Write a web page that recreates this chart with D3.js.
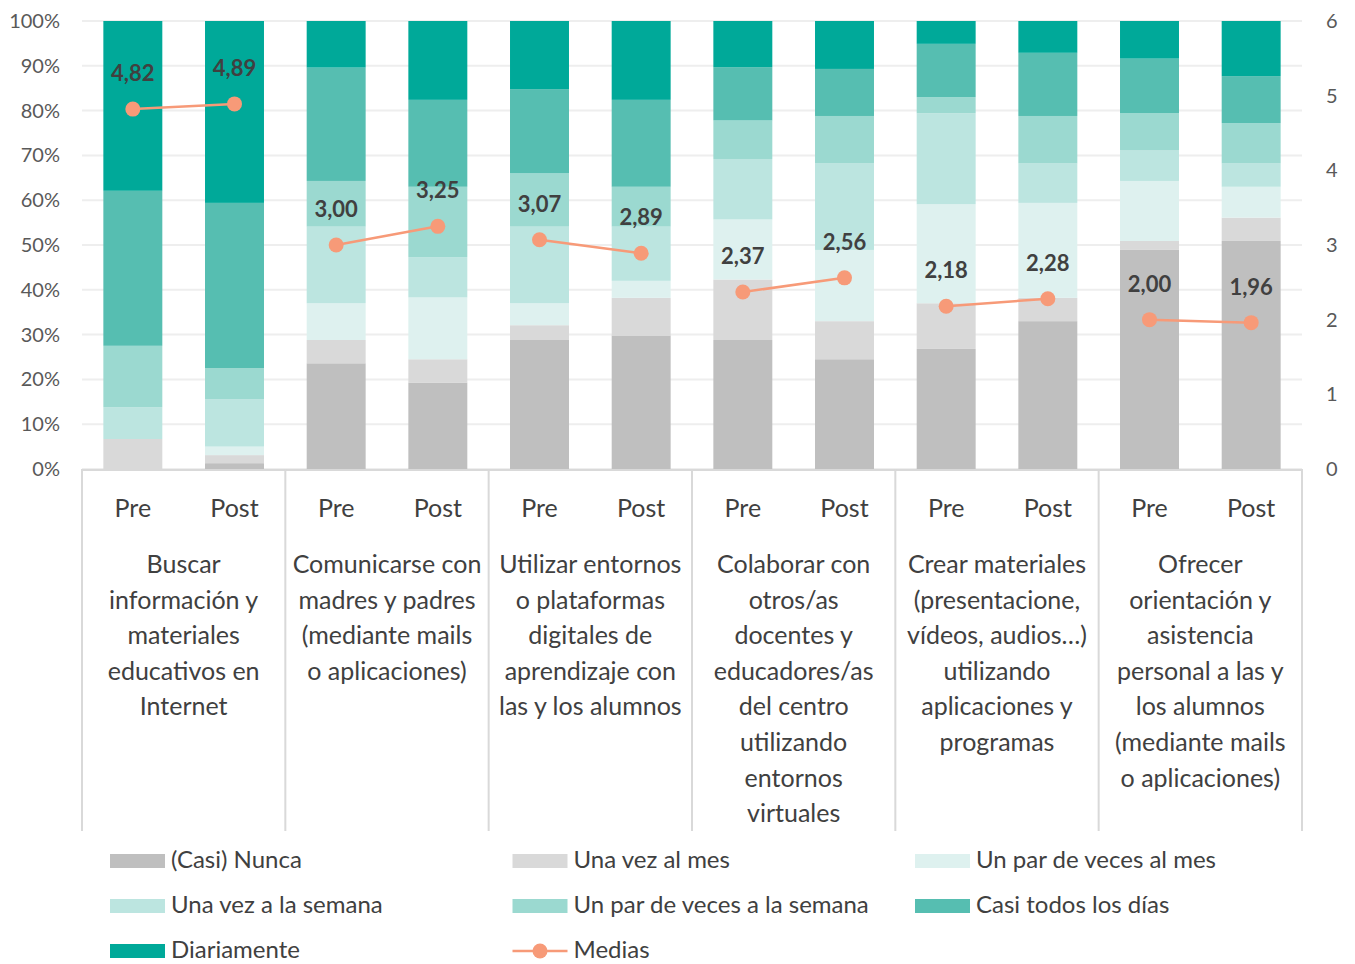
<!DOCTYPE html>
<html>
<head>
<meta charset="utf-8">
<script src="https://cdn.jsdelivr.net/npm/d3@7"></script>
<style>
  body { margin: 0; background: #fff; }
  text { font-family: Lato, "Open Sans", sans-serif; }
</style>
</head>
<body>
<div id="chart"></div>
<script>
var svgWidth = 1355
var svgHeight = 964

// categories
var categories = [
    ["Buscar", "información y", "materiales", "educativos en", "Internet"],
    ["Comunicarse con", "madres y padres", "(mediante mails", "o aplicaciones)"],
    ["Utilizar entornos", "o plataformas", "digitales de", "aprendizaje con", "las y los alumnos"],
    ["Colaborar con", "otros/as", "docentes y", "educadores/as", "del centro", "utilizando", "entornos", "virtuales"],
    ["Crear materiales", "(presentacione,", "vídeos, audios…)", "utilizando", "aplicaciones y", "programas"],
    ["Ofrecer", "orientación y", "asistencia", "personal a las y", "los alumnos", "(mediante mails", "o aplicaciones)"]
]
var periods = ["Pre", "Post"]

// percentages, one value per bar (Pre, Post for each category)
var nunca     = [0.0, 1.3, 23.6, 19.3, 28.8, 29.8, 28.8, 24.5, 26.8, 33.0, 48.9, 50.9]
var unaMes    = [6.7, 1.8, 5.2, 5.2, 3.3, 8.4, 13.5, 8.5, 10.2, 5.2, 2.0, 5.2]
var parMes    = [0.0, 1.9, 8.2, 13.8, 4.9, 3.8, 13.4, 15.9, 22.1, 21.2, 13.4, 6.9]
var unaSemana = [7.1, 10.6, 17.1, 9.0, 17.1, 12.1, 13.5, 19.3, 20.3, 8.8, 6.9, 5.2]
var parSemana = [13.7, 6.9, 10.2, 15.7, 11.9, 8.9, 8.6, 10.6, 3.6, 10.6, 8.2, 9.0]
var casiTodos = [34.6, 36.9, 25.3, 19.4, 18.8, 19.4, 11.9, 10.5, 11.9, 14.1, 12.2, 10.5]
var diario    = [37.9, 40.6, 10.4, 17.6, 15.2, 17.6, 10.3, 10.7, 5.1, 7.1, 8.4, 12.3]
var medias    = [4.82, 4.89, 3.00, 3.25, 3.07, 2.89, 2.37, 2.56, 2.18, 2.28, 2.00, 1.96]

var seriesNames = ["(Casi) Nunca", "Una vez al mes", "Un par de veces al mes",
    "Una vez a la semana", "Un par de veces a la semana", "Casi todos los días", "Diariamente"]
var seriesValues = [nunca, unaMes, parMes, unaSemana, parSemana, casiTodos, diario]
var colors = ["#BFBFBF", "#D9D9D9", "#DEF1EF", "#BCE5E0", "#9BD9D0", "#56BEB1", "#00A999"]
var lineColor = "#F79A78"

var leftTicks = [0, 10, 20, 30, 40, 50, 60, 70, 80, 90, 100]
var rightTicks = [0, 1, 2, 3, 4, 5, 6]

var x0 = 82, x1 = 1302, yTop = 21, yBottom = 469

var svg = d3.select("#chart").append("svg")
    .attr("width", svgWidth)
    .attr("height", svgHeight)

// build rows for each bar
var rows = []
for (var i = 0; i < medias.length; i++) {
    var row = { g: Math.floor(i / 2), period: periods[i % 2], media: medias[i] }
    seriesNames.forEach(function(s, k) { row[s] = seriesValues[k][i] })
    rows.push(row)
}

var groupScale = d3.scaleBand().domain(d3.range(categories.length)).range([x0, x1]).padding(0)
var periodScale = d3.scaleBand().domain(periods).range([0, groupScale.bandwidth()])
    .paddingInner(0.42).paddingOuter(0.21)
var y = d3.scaleLinear().domain([0, 100]).range([yBottom, yTop])
var yR = d3.scaleLinear().domain([0, 6]).range([yBottom, yTop])

function barX(d) { return groupScale(d.g) + periodScale(d.period) }
function barCx(d) { return barX(d) + periodScale.bandwidth() / 2 }

// gridlines
svg.append("g").selectAll("line")
    .data(leftTicks)
    .enter().append("line")
    .attr("x1", x0).attr("x2", x1)
    .attr("y1", function(d) { return y(d) }).attr("y2", function(d) { return y(d) })
    .attr("stroke", "#EEEEEE").attr("stroke-width", 2)

// left axis
var leftAxis = svg.append("g")
    .attr("transform", "translate(" + 60 + ",0)")
    .call(d3.axisLeft(y).tickValues(leftTicks).tickFormat(function(d) { return d + "%" }).tickSize(0).tickPadding(0))
leftAxis.select(".domain").remove()
leftAxis.selectAll("text").attr("font-size", 20).attr("fill", "#595959")
    .style("font-family", "Lato, sans-serif")

// right axis
var rightAxis = svg.append("g")
    .attr("transform", "translate(" + 1326 + ",0)")
    .call(d3.axisRight(yR).tickValues(rightTicks).tickFormat(d3.format("d")).tickSize(0).tickPadding(0))
rightAxis.select(".domain").remove()
rightAxis.selectAll("text").attr("font-size", 20).attr("fill", "#595959")
    .style("font-family", "Lato, sans-serif")

// stacked bars
var stack = d3.stack().keys(seriesNames)
var stacked = stack(rows)

svg.append("g").selectAll("g")
    .data(stacked)
    .enter().append("g")
    .attr("fill", function(d, i) { return colors[i] })
    .selectAll("rect")
    .data(function(d) { return d })
    .enter().append("rect")
    .attr("x", function(d) { return barX(d.data) })
    .attr("width", periodScale.bandwidth())
    .attr("y", function(d) { return y(d[1]) })
    .attr("height", function(d) { return y(d[0]) - y(d[1]) })

// category axis lines
svg.append("line")
    .attr("x1", x0).attr("x2", x1).attr("y1", yBottom + 1).attr("y2", yBottom + 1)
    .attr("stroke", "#D9D9D9").attr("stroke-width", 2)
var sepX = d3.range(categories.length).map(function(g) { return groupScale(g) }).concat([x1])
svg.append("g").selectAll("line")
    .data(sepX)
    .enter().append("line")
    .attr("x1", function(d) { return d }).attr("x2", function(d) { return d })
    .attr("y1", yBottom).attr("y2", 831)
    .attr("stroke", "#D9D9D9").attr("stroke-width", 2)

// Pre / Post labels
svg.append("g").selectAll("text")
    .data(rows)
    .enter().append("text")
    .attr("x", barCx)
    .attr("y", 517)
    .attr("text-anchor", "middle")
    .attr("font-size", 25)
    .attr("fill", "#404040")
    .text(function(d) { return d.period })

// category labels
var catG = svg.append("g").selectAll("text")
    .data(categories)
    .enter().append("text")
    .attr("text-anchor", "middle")
    .attr("font-size", 25)
    .attr("fill", "#404040")
catG.selectAll("tspan")
    .data(function(d, i) { return d.map(function(s) { return { s: s, g: i } }) })
    .enter().append("tspan")
    .attr("x", function(d) { return groupScale(d.g) + groupScale.bandwidth() / 2 })
    .attr("y", function(d, j) { return 573 + j * 35.6 })
    .text(function(d) { return d.s })

// means line
var fmt = d3.formatLocale({ decimal: ",", thousands: ".", grouping: [3], currency: ["", "€"] }).format(".2f")
var line = d3.line().x(barCx).y(function(d) { return yR(d.media) })
var pairs = d3.groups(rows, function(d) { return d.g })

svg.append("g").selectAll("path")
    .data(pairs)
    .enter().append("path")
    .attr("d", function(d) { return line(d[1]) })
    .attr("fill", "none")
    .attr("stroke", lineColor)
    .attr("stroke-width", 2.5)

svg.append("g").selectAll("circle")
    .data(rows)
    .enter().append("circle")
    .attr("cx", barCx)
    .attr("cy", function(d) { return yR(d.media) })
    .attr("r", 7.5)
    .attr("fill", lineColor)

svg.append("g").selectAll("text")
    .data(rows)
    .enter().append("text")
    .attr("x", barCx)
    .attr("y", function(d) { return yR(d.media) - 28 })
    .attr("text-anchor", "middle")
    .attr("font-size", 22)
    .attr("font-weight", "bold")
    .attr("fill", "#404040")
    .text(function(d) { return fmt(d.media) })

// legend
var legendItems = seriesNames.map(function(s, i) { return { name: s, color: colors[i], type: "rect" } })
legendItems.push({ name: "Medias", color: lineColor, type: "line" })
var legend = svg.append("g").selectAll("g")
    .data(legendItems)
    .enter().append("g")
    .attr("transform", function(d, i) {
        return "translate(" + (110 + (i % 3) * 402.5) + "," + (861 + Math.floor(i / 3) * 45) + ")"
    })
legend.filter(function(d) { return d.type == "rect" }).append("rect")
    .attr("x", 0).attr("y", -7).attr("width", 55).attr("height", 14)
    .attr("fill", function(d) { return d.color })
var lg = legend.filter(function(d) { return d.type == "line" })
lg.append("line").attr("x1", 0).attr("x2", 55).attr("y1", 0).attr("y2", 0)
    .attr("stroke", lineColor).attr("stroke-width", 2.5)
lg.append("circle").attr("cx", 27.5).attr("cy", 0).attr("r", 7.5).attr("fill", lineColor)
legend.append("text")
    .attr("x", 61).attr("y", 7)
    .attr("font-size", 24)
    .attr("fill", "#404040")
    .text(function(d) { return d.name })
</script>
</body>
</html>
